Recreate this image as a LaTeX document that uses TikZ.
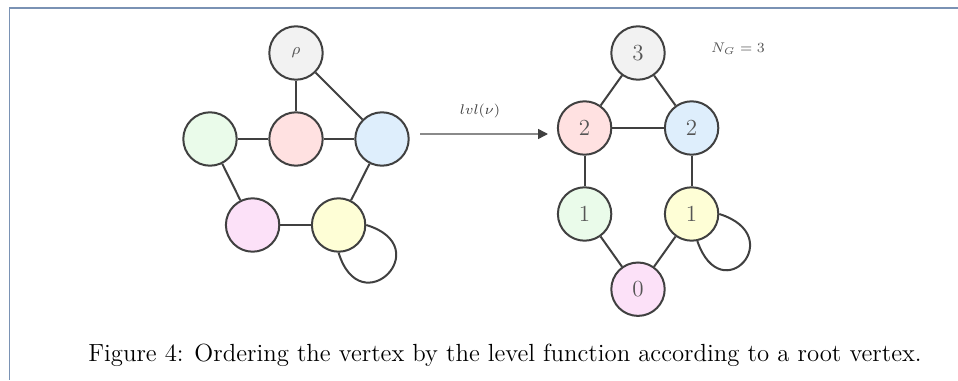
\documentclass[tikz,border=0pt]{standalone}
\usepackage{amsmath}
\usetikzlibrary{positioning,arrows.meta}

\definecolor{framecol}{HTML}{7A92B4}
\definecolor{edgecol}{HTML}{404040}
\definecolor{labelcol}{HTML}{555555}
\definecolor{arrowcol}{HTML}{8A8A8A}
\definecolor{greyfill}{HTML}{F2F2F2}
\definecolor{greenfill}{HTML}{EAFBEA}
\definecolor{redfill}{HTML}{FFE1E1}
\definecolor{bluefill}{HTML}{DEEEFC}
\definecolor{pinkfill}{HTML}{FCE1F8}
\definecolor{yellowfill}{HTML}{FEFED6}

\begin{document}
\begin{tikzpicture}[x=0.5pt,y=-0.5pt,
    vertex/.style={circle,draw=edgecol,line width=1pt,minimum size=26.7pt,inner sep=0pt,
      text=labelcol,font=\fontsize{11.5}{13}\selectfont},
    link/.style={draw=edgecol,line width=1pt},
    small/.style={text=labelcol,font=\fontsize{7}{8}\selectfont,inner sep=0pt},
    node distance=43pt, on grid]
  \useasboundingbox (0,0) rectangle (958,380);
  % box round the figure
  \draw[framecol,line width=0.75pt] (958,8) -- (9.5,8) -- (9.5,380);
  % graph with root vertex
  \node[vertex,fill=greyfill,font=\fontsize{8}{9}\selectfont] (rho) at (296,53) {$\rho$};
  \node[vertex,fill=redfill] (red) [below=of rho] {};
  \node[vertex,fill=greenfill] (green) [left=of red] {};
  \node[vertex,fill=bluefill] (blue) [right=of red] {};
  \node[vertex,fill=pinkfill] (pink) [below right=43pt and 21.3pt of green] {};
  \node[vertex,fill=yellowfill] (yellow) [right=of pink] {};
  \path[link] (rho) edge (red) edge (blue)
    (green) edge (red) edge (pink)
    (red) edge (blue)
    (blue) edge (yellow)
    (pink) edge (yellow);
  \draw[link] (yellow.east) .. controls +(72,22) and +(22,72) .. (yellow.south);
  % level function
  \coordinate (lvlstart) at (420,134);
  \coordinate (lvlend) at (548,134);
  \draw[arrowcol,line width=0.75pt,-{Triangle[length=5pt,width=5pt,color=edgecol]}]
    (lvlstart) -- node[small,above=7.5pt,xshift=-2pt,text=edgecol] (lvl) {$lvl(\nu)$} (lvlend);
  % graph ordered by level
  \node[vertex,fill=greyfill] (l3) at (638,53) {3};
  \node[vertex,fill=redfill] (l2a) [below left=37.5pt and 26.7pt of l3] {2};
  \node[vertex,fill=bluefill] (l2b) [right=53.5pt of l2a] {2};
  \node[vertex,fill=greenfill] (l1a) [below=of l2a] {1};
  \node[vertex,fill=yellowfill] (l1b) [below=of l2b] {1};
  \node[vertex,fill=pinkfill] (l0) [below right=37.6pt and 26.7pt of l1a] {0};
  \path[link] (l3) edge (l2a) edge (l2b)
    (l2a) edge (l2b) edge (l1a)
    (l2b) edge (l1b)
    (l1a) edge (l0)
    (l1b) edge (l0);
  \draw[link] (l1b.east) .. controls +(70,22) and +(24,70) .. (l1b.-78);
  \node[small] (ng) at (738,49) {$N_G = 3$};
  % caption
  \node[anchor=base,inner sep=0pt,font=\fontsize{12.4}{15}\selectfont] (caption) at (505,361.5)
    {Figure 4: Ordering the vertex by the level function according to a root vertex.};
\end{tikzpicture}
\end{document}
